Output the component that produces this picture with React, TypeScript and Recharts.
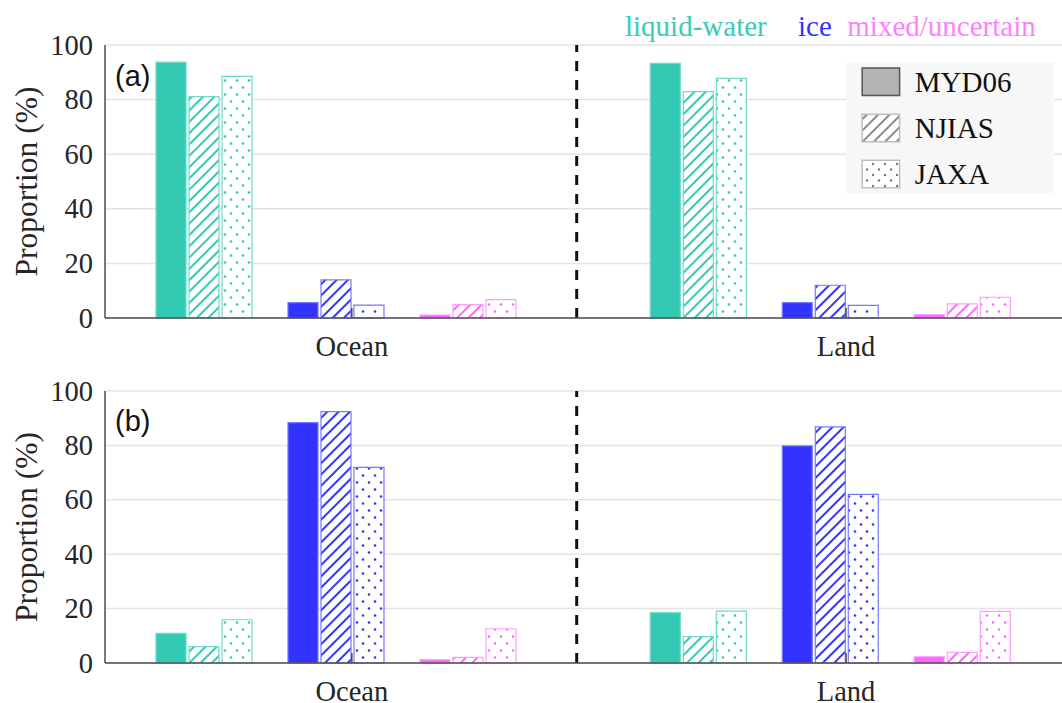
import React from "react";
import { BarChart, Bar, XAxis, YAxis, CartesianGrid, ReferenceLine, Cell, Legend } from "recharts";

const SURFACES = ["Ocean", "Land"];
const PHASES = ["liquid-water", "ice", "mixed/uncertain"];
const PRODUCTS = ["MYD06", "NJIAS", "JAXA"];
const Y_TICKS = [0, 20, 40, 60, 80, 100];

// proportions (%) — order: Ocean (liquid, ice, mixed), Land (liquid, ice, mixed)
const A_MYD06 = [93.7, 5.6, 1.1, 93.3, 5.6, 1.2];
const A_NJIAS = [81.1, 14.0, 4.9, 82.9, 12.0, 5.2];
const A_JAXA = [88.5, 4.7, 6.7, 87.8, 4.6, 7.6];

const B_MYD06 = [10.9, 88.4, 1.2, 18.5, 79.8, 2.3];
const B_NJIAS = [6.0, 92.4, 2.1, 9.7, 86.8, 3.9];
const B_JAXA = [15.9, 71.9, 12.6, 19.1, 62.0, 19.0];

const PHASE_COLORS = ["#33c9b2", "#3333ff", "#ff66ff"];
const PHASE_EDGES = ["#70d9c9", "#7878ff", "#ff9cff"];
const PHASE_TEXT = ["#3ccab5", "#3333ff", "#ff80ff"];

// x layout: surface centres, phase group offsets
const SURFACE_X = [1, 2];
const PHASE_DX = [-0.267, 0, 0.267];
const X_DOMAIN: [number, number] = [0.5327, 2.4769];
const X_TICKS = [1.032, 2.032];
const DIVIDER_X = 1.487;

const AXIS = "#4d4d4d";
const SERIF = "Liberation Serif, Times New Roman, serif";
const SANS = "Liberation Sans, Arial, sans-serif";
const serif = (size: number, fill = "#262626") => ({ fontFamily: SERIF, fontSize: size, fill });

function buildRows(myd: number[], njias: number[], jaxa: number[]) {
  const rows: any[] = [];
  SURFACES.forEach((_, si) =>
    PHASES.forEach((_, pi) => {
      const i = si * 3 + pi;
      rows.push({ x: SURFACE_X[si] + PHASE_DX[pi], phase: pi, MYD06: myd[i], NJIAS: njias[i], JAXA: jaxa[i] });
    })
  );
  return rows;
}

const ROWS_A = buildRows(A_MYD06, A_NJIAS, A_JAXA);
const ROWS_B = buildRows(B_MYD06, B_NJIAS, B_JAXA);

function fillFor(product: number, phase: number) {
  if (product === 0) return PHASE_COLORS[phase];
  if (product === 1) return `url(#hatch-${phase})`;
  return `url(#dots-${phase})`;
}

function SurfaceTick(props: any) {
  const { x, y, payload } = props;
  const i = X_TICKS.indexOf(payload.value);
  const axisY = y - 18;
  return (
    <g>
      <line x1={x} x2={x} y1={axisY} y2={axisY - 10} stroke={AXIS} strokeWidth={1.5} />
      <text x={x} y={axisY + 38} textAnchor="middle" style={serif(28.5)}>
        {SURFACES[i]}
      </text>
    </g>
  );
}

function YTick(props: any) {
  const { x, y, payload } = props;
  return (
    <text x={x} y={y} textAnchor="end" dominantBaseline="central" style={serif(28.5)}>
      {payload.value}
    </text>
  );
}

function YLabel(props: any) {
  const vb = props.viewBox;
  const cx = 26;
  const cy = vb.y + vb.height / 2;
  return (
    <text
      x={cx}
      y={cy}
      transform={`rotate(-90 ${cx} ${cy})`}
      textAnchor="middle"
      dominantBaseline="central"
      style={serif(31.5)}
    >
      Proportion (%)
    </text>
  );
}

function LegendBox() {
  const rows = [67.7, 114, 160];
  return (
    <svg width={208} height={131} style={{ display: "block" }}>
      <rect x={0} y={0} width={208} height={131} fill="#f7f7f7" />
      {PRODUCTS.map((p, i) => {
        const y = rows[i] - 61.7;
        const fill = i === 0 ? "#b3b3b3" : i === 1 ? "url(#hatch-legend)" : "url(#dots-legend)";
        return (
          <g key={p}>
            <rect x={16.2} y={y} width={37.4} height={27.5} fill={fill} stroke={i === 0 ? "#555" : "#bdbdbd"} strokeWidth={1.5} />
            <text x={68.8} y={y + 24} style={serif(29, "#111")}>
              {p}
            </text>
          </g>
        );
      })}
    </svg>
  );
}

function Panel({ rows, top, height, marginTop, axisHeight, legend }: any) {
  return (
    <div style={{ position: "absolute", left: 0, top }}>
      <BarChart
        width={1066}
        height={height}
        data={rows}
        margin={{ top: marginTop, right: 0, bottom: 0, left: 0 }}
        barSize={30}
        barGap={3}
      >
        <CartesianGrid vertical={false} stroke="#e4e4e4" strokeWidth={1.5} />
        <XAxis
          dataKey="x"
          type="number"
          domain={X_DOMAIN}
          allowDataOverflow
          ticks={X_TICKS}
          interval={0}
          height={axisHeight}
          tickLine={false}
          tickSize={10}
          tickMargin={8}
          axisLine={{ stroke: AXIS, strokeWidth: 1.5 }}
          tick={<SurfaceTick />}
        />
        <XAxis
          xAxisId="top"
          dataKey="x"
          orientation="top"
          type="number"
          domain={X_DOMAIN}
          allowDataOverflow
          ticks={X_TICKS}
          height={0}
          mirror
          tickSize={10}
          tickFormatter={() => ""}
          tickLine={{ stroke: AXIS, strokeWidth: 1.5 }}
          axisLine={{ stroke: AXIS, strokeWidth: 1.5 }}
        />
        <YAxis
          type="number"
          domain={[0, 100]}
          ticks={Y_TICKS}
          width={105}
          tickLine={false}
          tickSize={10}
          tickMargin={2}
          axisLine={{ stroke: AXIS, strokeWidth: 1.5 }}
          tick={<YTick />}
          label={{ content: YLabel }}
        />
        <YAxis
          yAxisId="r"
          orientation="right"
          type="number"
          domain={[0, 100]}
          ticks={Y_TICKS}
          width={0}
          mirror
          tickSize={10}
          tickFormatter={() => ""}
          axisLine={false}
          tickLine={{ stroke: AXIS, strokeWidth: 1.5 }}
        />
        {PRODUCTS.map((p, pi) => (
          <Bar key={p} dataKey={p} isAnimationActive={false}>
            {rows.map((r: any, i: number) => (
              <Cell key={i} fill={fillFor(pi, r.phase)} stroke={PHASE_EDGES[r.phase]} strokeWidth={1.2} />
            ))}
          </Bar>
        ))}
        <ReferenceLine x={DIVIDER_X} stroke="#111" strokeWidth={3} strokeDasharray="10 9" />
        {legend && (
          <Legend
            layout="horizontal"
            verticalAlign="middle"
            align="center"
            wrapperStyle={{ left: 846, top: 62, width: 208, height: 131 }}
            content={() => <LegendBox />}
          />
        )}
      </BarChart>
    </div>
  );
}

function Patterns() {
  return (
    <defs>
      {PHASE_COLORS.map((c, i) => (
        <pattern key={`h${i}`} id={`hatch-${i}`} patternUnits="userSpaceOnUse" width={8} height={8} patternTransform="rotate(45)">
          <rect width={8} height={8} fill="#fff" />
          <line x1={4} y1={0} x2={4} y2={8} stroke={c} strokeWidth={2} />
        </pattern>
      ))}
      {PHASE_COLORS.map((c, i) => (
        <pattern key={`d${i}`} id={`dots-${i}`} patternUnits="userSpaceOnUse" width={12} height={14}>
          <rect width={12} height={14} fill="#fff" />
          <circle cx={3} cy={3.5} r={1.3} fill={c} />
          <circle cx={9} cy={10.5} r={1.3} fill={c} />
        </pattern>
      ))}
      <pattern id="hatch-legend" patternUnits="userSpaceOnUse" width={8} height={8} patternTransform="rotate(45)">
        <rect width={8} height={8} fill="#fff" />
        <line x1={4} y1={0} x2={4} y2={8} stroke="#8a8a8a" strokeWidth={2} />
      </pattern>
      <pattern id="dots-legend" patternUnits="userSpaceOnUse" width={12} height={11}>
        <rect width={12} height={11} fill="#fff" />
        <circle cx={3} cy={3} r={1.2} fill="#777" />
        <circle cx={9} cy={8.5} r={1.2} fill="#777" />
      </pattern>
    </defs>
  );
}

export default function App() {
  const labelX = [625, 798, 847.3];
  return (
    <div style={{ position: "absolute", left: 0, top: 0, width: 1062, height: 703, overflow: "hidden", background: "#fff" }}>
      <svg width={0} height={0} style={{ position: "absolute" }}>
        <Patterns />
      </svg>
      <Panel rows={ROWS_A} top={0} height={375} marginTop={45} axisHeight={57} legend />
      <Panel rows={ROWS_B} top={360} height={343} marginTop={31} axisHeight={40} />
      <svg width={1062} height={703} style={{ position: "absolute", left: 0, top: 0, pointerEvents: "none" }}>
        {PHASES.map((p, i) => (
          <text key={p} x={labelX[i]} y={36} style={serif(29, PHASE_TEXT[i])}>
            {p}
          </text>
        ))}
        <text x={115} y={85.5} style={{ fontFamily: SANS, fontSize: 29, fill: "#111" }}>(a)</text>
        <text x={115} y={430.5} style={{ fontFamily: SANS, fontSize: 29, fill: "#111" }}>(b)</text>
      </svg>
    </div>
  );
}
